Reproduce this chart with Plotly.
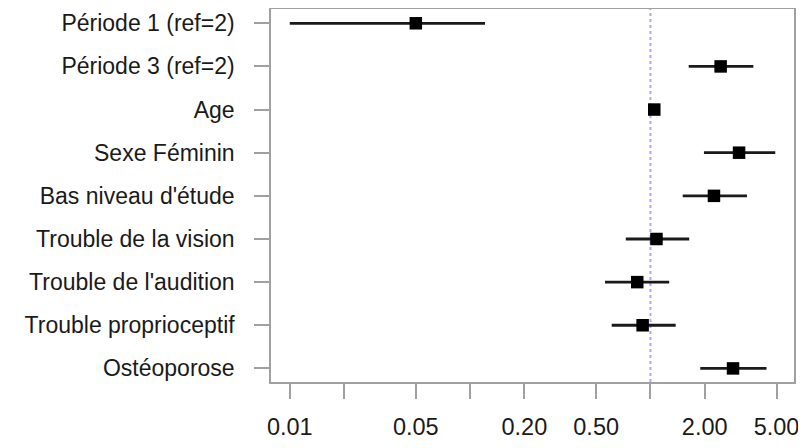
import plotly.graph_objects as go

categories = ["Période 1 (ref=2)", "Période 3 (ref=2)", "Age", "Sexe Féminin",
              "Bas niveau d'étude", "Trouble de la vision", "Trouble de l'audition",
              "Trouble proprioceptif", "Ostéoporose"]
estimate = [0.05, 2.45, 1.05, 3.10, 2.25, 1.08, 0.845, 0.905, 2.87]
ci_low = [0.01, 1.63, 1.03, 1.98, 1.51, 0.73, 0.56, 0.61, 1.89]
ci_high = [0.121, 3.72, 1.07, 4.92, 3.43, 1.64, 1.27, 1.38, 4.40]

tick_vals = [0.01, 0.02, 0.05, 0.1, 0.2, 0.5, 1, 2, 5]
tick_text = ["0.01", "", "0.05", "", "0.20", "0.50", "", "2.00", "5.00"]
ref_value = 1

ypos = list(range(len(categories)))
yrange = [8.315, -0.331]

fig = go.Figure()
fig.add_trace(go.Scatter(
    x=[ref_value, ref_value], y=yrange, mode="lines",
    line=dict(color="#a8a8ff", width=2, dash="dot"),
    hoverinfo="skip", showlegend=False))
fig.add_trace(go.Scatter(
    x=estimate, y=ypos, mode="markers",
    marker=dict(symbol="square", size=12.5, color="black"),
    error_x=dict(type="data", symmetric=False,
                 array=[h - e for h, e in zip(ci_high, estimate)],
                 arrayminus=[e - l for e, l in zip(estimate, ci_low)],
                 width=0, thickness=2.8, color="#1a1a1a"),
    showlegend=False))

axis_common = dict(showline=True, mirror=True, linecolor="#a0a0a0", linewidth=1.5,
                   ticks="outside", tickcolor="#a0a0a0", tickwidth=1.5,
                   showgrid=False, zeroline=False, automargin=False)

fig.update_xaxes(type="log", range=[-2.104, 0.796], tickvals=tick_vals, ticktext=tick_text,
                 ticklen=15, ticklabelstandoff=8,
                 tickfont=dict(family="Liberation Sans", size=23.5, color="#1a1a1a"),
                 **axis_common)
fig.update_yaxes(range=yrange, tickvals=ypos, ticktext=categories,
                 ticklen=15, ticklabelstandoff=15,
                 tickfont=dict(family="Liberation Sans", size=23, color="#1a1a1a"),
                 **axis_common)

# page body has an 8px default margin: compensate so the plot lands where the reference has it
fig.update_layout(width=798, height=440, margin=dict(l=263, r=12, t=1, b=66),
                  plot_bgcolor="white", paper_bgcolor="white")

fig.write_html("out.html")
